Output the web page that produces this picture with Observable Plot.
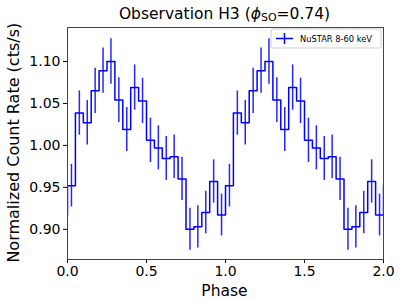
<!DOCTYPE html>
<html><head><meta charset="utf-8">
<script src="https://cdn.jsdelivr.net/npm/d3@7"></script>
<script src="https://cdn.jsdelivr.net/npm/@observablehq/plot@0.6"></script>
<style>body{margin:0;background:#fff} svg{display:block}</style>
</head><body><div id="chart"></div>
<script>
// normalized rate per phase bin (20 bins per cycle), shown for two cycles
const rate = [0.952, 1.0385, 1.027, 1.065, 1.089, 1.100, 1.054, 1.019, 1.069, 1.053,
              1.006, 0.997, 0.9845, 0.9865, 0.960, 0.900, 0.903, 0.920, 0.957, 0.917];
const err  = [0.0254, 0.0264, 0.0266, 0.027, 0.027, 0.0272, 0.0266, 0.0262, 0.027, 0.027,
              0.0264, 0.0262, 0.0262, 0.026, 0.0258, 0.025, 0.0252, 0.0254, 0.0258, 0.025];
const binWidth = 0.05;
const cycles = 2;
const xTicks = [0, 0.5, 1.0, 1.5, 2.0];
const yTicks = [0.90, 0.95, 1.00, 1.05, 1.10];
const legendLabel = "NuSTAR 8-60 keV";
const color = "#0000ff";

const points = [];
for (let c = 0; c < cycles; c++) {
  rate.forEach((v, i) => points.push({phase: c + (i + 0.5) * binWidth, rate: v, err: err[i]}));
}
// padded copies so the step line runs to the frame edges (clipped)
const stepPts = [
  {phase: -binWidth / 2, rate: rate[rate.length - 1]},
  ...points,
  {phase: cycles + binWidth / 2, rate: rate[0]}
];

const font = "DejaVu Sans, sans-serif";
const chart = Plot.plot({
  width: 400, height: 301,
  marginLeft: 67, marginRight: 17, marginTop: 27, marginBottom: 42,
  style: {fontFamily: font, fontSize: "14px", color: "#000", background: "#fff"},
  x: {domain: [0, 2], label: null},
  y: {domain: [0.864, 1.1405], label: null},
  marks: [
    Plot.axisX({ticks: xTicks, tickFormat: d3.format(".1f"), tickSize: 4, tickPadding: 3, fontSize: 14, label: null}),
    Plot.axisY({ticks: yTicks, tickFormat: d3.format(".2f"), tickSize: 4, tickPadding: 3, fontSize: 14, label: null}),
    Plot.ruleX(points, {x: "phase", y1: d => d.rate - d.err, y2: d => d.rate + d.err, stroke: color, strokeWidth: 1.5, strokeOpacity: 0.85}),
    Plot.line(stepPts, {x: "phase", y: "rate", curve: "step", stroke: color, strokeWidth: 1.5, clip: true}),
    Plot.frame({stroke: "#444", strokeWidth: 1})
  ]
});
document.getElementById("chart").appendChild(chart);

const svg = d3.select(chart);
// title
const t = svg.append("text").attr("x", 224.5).attr("y", 19).attr("text-anchor", "middle")
  .attr("font-family", font).attr("font-size", 15.5).attr("fill", "#000");
t.append("tspan").text("Observation H3 (");
t.append("tspan").attr("font-style", "italic").text("ϕ");
t.append("tspan").attr("font-size", 11).attr("dy", 2).text("SO");
t.append("tspan").attr("dy", -2).text("=0.74)");
// axis labels
svg.append("text").attr("x", 224.5).attr("y", 296).attr("text-anchor", "middle")
  .attr("font-family", font).attr("font-size", 15.5).attr("fill", "#000").text("Phase");
svg.append("text").attr("transform", "translate(19,142.7) rotate(-90)").attr("text-anchor", "middle")
  .attr("font-family", font).attr("font-size", 16).attr("fill", "#000").text("Normalized Count Rate (cts/s)");
// legend
const lg = svg.append("g").attr("text-anchor", "start");
lg.append("rect").attr("x", 271).attr("y", 29).attr("width", 110).attr("height", 19).attr("rx", 2)
  .attr("fill", "#fff").attr("stroke", "#ccc");
lg.append("line").attr("x1", 276).attr("x2", 293).attr("y1", 38.5).attr("y2", 38.5).attr("stroke", color).attr("stroke-width", 1.5);
lg.append("line").attr("x1", 284.5).attr("x2", 284.5).attr("y1", 33).attr("y2", 44).attr("stroke", color).attr("stroke-width", 1.5);
lg.append("text").attr("x", 300).attr("y", 41.5).attr("text-anchor", "start").attr("font-family", font).attr("font-size", 8.3).attr("fill", "#000").text(legendLabel);
</script></body></html>
